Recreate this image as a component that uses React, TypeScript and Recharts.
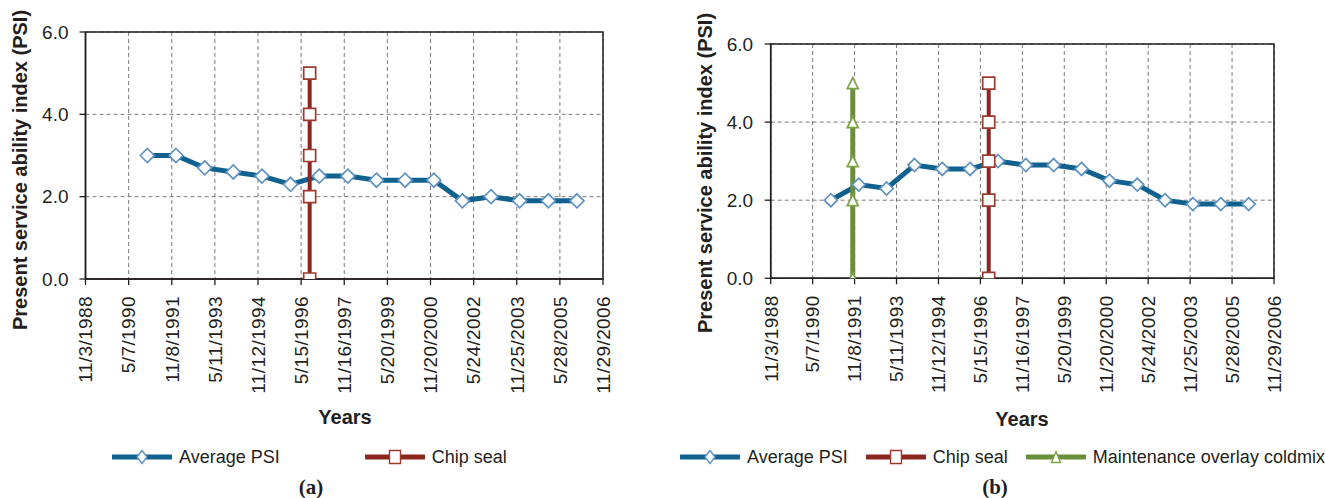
import React from 'react';
import { LineChart, Line, XAxis, YAxis, CartesianGrid, ReferenceArea, Legend } from 'recharts';

// ---------- data ----------
const tickDates = ['1988-11-03', '1990-05-07', '1991-11-08', '1993-05-11', '1994-11-12', '1996-05-15', '1997-11-16', '1999-05-20', '2000-11-20', '2002-05-24', '2003-11-25', '2005-05-28', '2006-11-29'];
const tickLabels = ['11/3/1988', '5/7/1990', '11/8/1991', '5/11/1993', '11/12/1994', '5/15/1996', '11/16/1997', '5/20/1999', '11/20/2000', '5/24/2002', '11/25/2003', '5/28/2005', '11/29/2006'];
const yTicks = [0, 2, 4, 6];

const psiDates = ['1991-01-01', '1992-01-01', '1993-01-01', '1994-01-01', '1995-01-01', '1996-01-01', '1997-01-01', '1998-01-01', '1999-01-01', '2000-01-01', '2001-01-01', '2002-01-01', '2003-01-01', '2004-01-01', '2005-01-01', '2006-01-01'];
const psiA = [3.0, 3.0, 2.7, 2.6, 2.5, 2.3, 2.5, 2.5, 2.4, 2.4, 2.4, 1.9, 2.0, 1.9, 1.9, 1.9];
const psiB = [2.0, 2.4, 2.3, 2.9, 2.8, 2.8, 3.0, 2.9, 2.9, 2.8, 2.5, 2.4, 2.0, 1.9, 1.9, 1.9];

const chipSealDate = '1996-09-01';
const chipSealValues = [0, 2, 3, 4, 5];
const coldmixDate = '1991-10-15';
const coldmixValues = [0, 2, 3, 4, 5];

// ---------- helpers ----------
const ts = (s: string) => Date.parse(s + 'T00:00:00Z');
const tickTs = tickDates.map(ts);
const domain: [number, number] = [tickTs[0], tickTs[tickTs.length - 1]];

const psiDataA = psiDates.map((d, i) => ({ t: ts(d), v: psiA[i] }));
const psiDataB = psiDates.map((d, i) => ({ t: ts(d), v: psiB[i] }));
const chipData = chipSealValues.map((v) => ({ t: ts(chipSealDate), v }));
const coldData = coldmixValues.map((v) => ({ t: ts(coldmixDate), v }));

const FONT = '"Liberation Sans", Arial, Helvetica, sans-serif';
const SERIF = '"Liberation Serif", "Times New Roman", serif';
const INK = '#231f20';

const C_PSI = '#11618f';
const C_PSI_M = '#5f93c3';
const C_CHIP = '#8b2620';
const C_CHIP_M = '#9c3a30';
const C_COLD = '#6b8e3a';
const C_COLD_M = '#7ea24a';

type Kind = 'diamond' | 'square' | 'triangle';

function shapePath(kind: Kind, cx: number, cy: number, w: number, h: number) {
  const a = w / 2;
  const b = h / 2;
  if (kind === 'diamond') return `M${cx},${cy - b}L${cx + a},${cy}L${cx},${cy + b}L${cx - a},${cy}Z`;
  if (kind === 'square') return `M${cx - a},${cy - b}h${w}v${h}h${-w}Z`;
  return `M${cx},${cy - b}L${cx + a},${cy + b}L${cx - a},${cy + b}Z`;
}

const makeDot = (kind: Kind, stroke: string, w: number, h: number) => (props: any) => {
  const { cx, cy, index } = props;
  if (cx == null || cy == null) return <g key={`n-${kind}-${index}`} />;
  return <path key={`${kind}-${index}`} d={shapePath(kind, cx, cy, w, h)} fill="#ffffff" stroke={stroke} strokeWidth={1.7} />;
};

const XTick = (props: any) => {
  const { x, y, payload } = props;
  const idx = tickTs.indexOf(payload.value);
  return (
    <text x={x} y={y} transform={`rotate(-90, ${x}, ${y})`} textAnchor="end" dy="0.36em" fontSize={19} fill={INK} fontFamily={FONT} letterSpacing={0.4}>
      {idx >= 0 ? tickLabels[idx] : ''}
    </text>
  );
};

type LegendItem = { name: string; color: string; marker: Kind; mstroke: string; mw: number; mh: number };

const LegendIcon = ({ it }: { it: LegendItem }) => (
  <svg width={60} height={16} style={{ display: 'block', flex: 'none' }}>
    <line x1={1} y1={8} x2={59} y2={8} stroke={it.color} strokeWidth={5} strokeLinecap="round" />
    <path d={shapePath(it.marker, 30, 8, it.mw, it.mh)} fill="#fff" stroke={it.mstroke} strokeWidth={1.4} />
  </svg>
);

const makeLegend = (items: LegendItem[], gap: number) => () => (
  <div style={{ display: 'flex', alignItems: 'center', fontFamily: FONT, fontSize: 18, color: INK, whiteSpace: 'nowrap' }}>
    {items.map((it, i) => (
      <div key={it.name} style={{ display: 'flex', alignItems: 'center', marginLeft: i === 0 ? 0 : gap }}>
        <LegendIcon it={it} />
        <span style={{ marginLeft: 7, lineHeight: '20px' }}>{it.name}</span>
      </div>
    ))}
  </div>
);

type PanelProps = {
  width: number;
  margin: { top: number; right: number; left: number; bottom: number };
  psi: { t: number; v: number }[];
  extra: { data: { t: number; v: number }[]; color: string; mstroke: string; kind: Kind; w: number; h: number; sw: number; name: string }[];
  yTitle: { x: number; y: number };
  xTitle: { x: number; y: number };
  caption: { x: number; y: number; text: string };
  legendItems: LegendItem[];
  legendPos: { left: number; top: number; gap: number };
  yTickMargin: number;
  diamond: number;
};

const Panel = (p: PanelProps) => (
  <LineChart width={p.width} height={498} margin={p.margin} style={{ fontFamily: FONT }}>
    <CartesianGrid stroke="#7a7a7a" strokeDasharray="4 3" strokeWidth={1} />
    <ReferenceArea x1={domain[0]} x2={domain[1]} y1={0} y2={6} fill="none" stroke={INK} strokeWidth={1.5} ifOverflow="visible" />
    <XAxis
      dataKey="t"
      type="number"
      domain={domain}
      ticks={tickTs}
      interval={0}
      allowDataOverflow
      tick={(props: any) => <XTick {...props} />}
      tickSize={6}
      tickMargin={11}
      height={120}
      axisLine={{ stroke: INK, strokeWidth: 1.5 }}
      tickLine={{ stroke: INK, strokeWidth: 1.3 }}
      label={{
        content: () => (
          <g>
            <text x={p.xTitle.x} y={p.xTitle.y} textAnchor="middle" fontSize={20} fontWeight="bold" fill={INK} fontFamily={FONT}>Years</text>
            <text x={p.caption.x} y={p.caption.y} textAnchor="middle" fontSize={21} fontWeight="bold" fill={INK} fontFamily={SERIF}>{p.caption.text}</text>
          </g>
        ),
      }}
    />
    <YAxis
      type="number"
      domain={[0, 6]}
      ticks={yTicks}
      interval={0}
      allowDataOverflow
      tickFormatter={(v: number) => v.toFixed(1)}
      tick={{ fontSize: 19, fill: INK, fontFamily: FONT }}
      tickSize={6}
      tickMargin={p.yTickMargin}
      width={70}
      axisLine={{ stroke: INK, strokeWidth: 1.5 }}
      tickLine={{ stroke: INK, strokeWidth: 1.3 }}
      label={{
        content: () => (
          <text transform={`translate(${p.yTitle.x}, ${p.yTitle.y}) rotate(-90)`} textAnchor="middle" dominantBaseline="central" fontSize={20} fontWeight="bold" fill={INK} fontFamily={FONT}>
            Present service ability index (PSI)
          </text>
        ),
      }}
    />
    <Legend
      layout="horizontal"
      verticalAlign="middle"
      align="center"
      content={makeLegend(p.legendItems, p.legendPos.gap)}
      wrapperStyle={{ left: p.legendPos.left, top: p.legendPos.top, width: 'auto', height: 'auto' }}
    />
    <Line
      name="Average PSI"
      data={p.psi}
      dataKey="v"
      type="linear"
      stroke={C_PSI}
      strokeWidth={5}
      dot={makeDot('diamond', C_PSI_M, p.diamond, p.diamond)}
      activeDot={false}
      isAnimationActive={false}
    />
    {p.extra.map((s) => (
      <Line
        key={s.name}
        name={s.name}
        data={s.data}
        dataKey="v"
        type="linear"
        stroke={s.color}
        strokeWidth={s.sw}
        dot={makeDot(s.kind, s.mstroke, s.w, s.h)}
        activeDot={false}
        isAnimationActive={false}
      />
    ))}
  </LineChart>
);

const psiLegend: LegendItem = { name: 'Average PSI', color: C_PSI, marker: 'diamond', mstroke: C_PSI_M, mw: 10, mh: 13 };
const chipLegend: LegendItem = { name: 'Chip seal', color: C_CHIP, marker: 'square', mstroke: C_CHIP_M, mw: 11, mh: 13 };
const coldLegend: LegendItem = { name: 'Maintenance overlay coldmix', color: C_COLD, marker: 'triangle', mstroke: C_COLD_M, mw: 9, mh: 11 };

export default function App() {
  return (
    <div style={{ position: 'absolute', left: 0, top: 0, width: 1325, height: 498, background: '#ffffff', overflow: 'hidden' }}>
      <div style={{ position: 'absolute', left: 0, top: 0 }}>
        <Panel
          width={660}
          margin={{ top: 32, right: 57, left: 15.5, bottom: 99 }}
          psi={psiDataA}
          extra={[{ data: chipData, color: C_CHIP, mstroke: C_CHIP_M, kind: 'square', w: 12, h: 12, sw: 4, name: 'Chip seal' }]}
          yTitle={{ x: 20, y: 170 }}
          xTitle={{ x: 345, y: 424 }}
          caption={{ x: 311, y: 494, text: '(a)' }}
          legendItems={[psiLegend, chipLegend]}
          legendPos={{ left: 112, top: 447, gap: 85 }}
          yTickMargin={11}
          diamond={14}
        />
      </div>
      <div style={{ position: 'absolute', left: 660, top: 0 }}>
        <Panel
          width={665}
          margin={{ top: 44, right: 51, left: 40.7, bottom: 99.7 }}
          psi={psiDataB}
          extra={[
            { data: chipData, color: C_CHIP, mstroke: C_CHIP_M, kind: 'square', w: 12, h: 12, sw: 4, name: 'Chip seal' },
            { data: coldData, color: C_COLD, mstroke: C_COLD_M, kind: 'triangle', w: 11, h: 11, sw: 5, name: 'Maintenance overlay coldmix' },
          ]}
          yTitle={{ x: 45, y: 173 }}
          xTitle={{ x: 362, y: 426 }}
          caption={{ x: 335, y: 494, text: '(b)' }}
          legendItems={[psiLegend, chipLegend, coldLegend]}
          legendPos={{ left: 20, top: 447, gap: 18 }}
          yTickMargin={11.5}
          diamond={13}
        />
      </div>
    </div>
  );
}
